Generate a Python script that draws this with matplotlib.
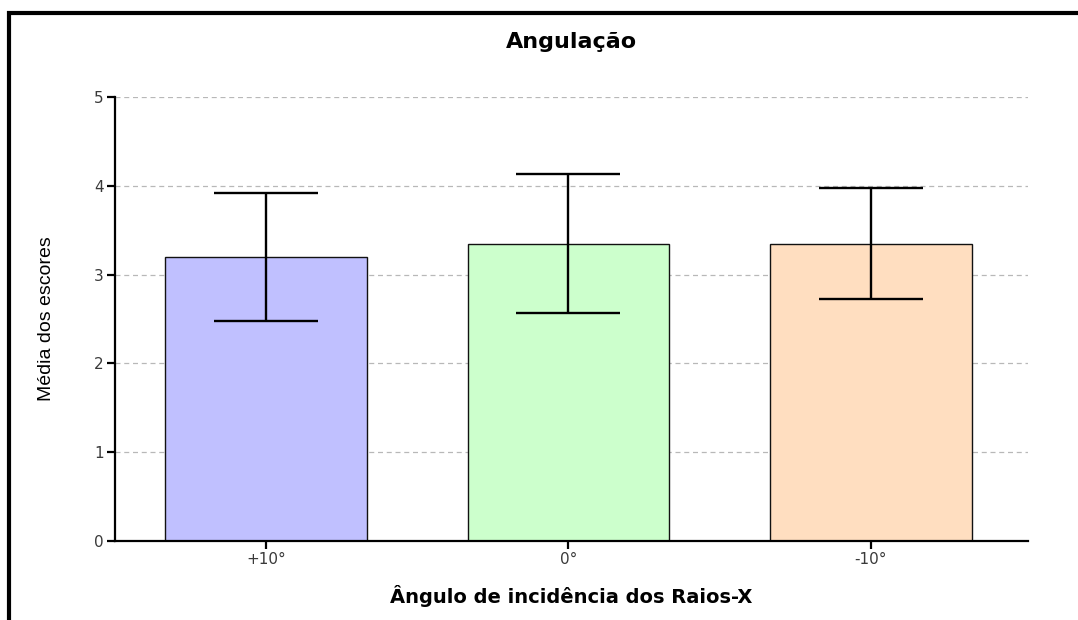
import matplotlib
matplotlib.use("Agg")
import matplotlib.pyplot as plt
from matplotlib.lines import Line2D

plt.rcParams['font.family'] = ['DejaVu Sans']

# data
categories = ['+10°', '0°', '-10°']
means = [3.2, 3.35, 3.35]
errors = [0.72, 0.78, 0.63]
colors = ['#C0C0FF', '#CCFFCC', '#FFDEC0']
yticks = [0, 1, 2, 3, 4, 5]

W, H = 1078, 620
fig = plt.figure(figsize=(W / 100, H / 100), dpi=100)
ax = fig.add_axes([115 / W, 1 - 541 / H, 913 / W, 444 / H])

x = list(range(len(categories)))
ax.bar(x, means, width=0.667, color=colors, edgecolor='#111111', linewidth=1.0, zorder=2)
ax.errorbar(x, means, yerr=errors, fmt='none', ecolor='black', elinewidth=1.7,
            capsize=37.5, capthick=1.7, zorder=3)

ax.set_xlim(-0.5, 2.52)
ax.set_ylim(0, 5)
ax.set_yticks(yticks)
ax.set_xticks(x)
ax.set_xticklabels(categories)

for yv in yticks[1:]:
    ax.axhline(yv, color='#b8b8b8', linestyle=(0, (4, 3)), linewidth=0.9, zorder=1)

for s in ['top', 'right']:
    ax.spines[s].set_visible(False)
for s in ['left', 'bottom']:
    ax.spines[s].set_linewidth(1.6)
ax.tick_params(axis='both', direction='out', width=1.6, length=6, labelsize=11,
               labelcolor='#3a3a3a', pad=2)

ax.set_title('Angulação', fontsize=16, fontweight='bold', pad=35)
ax.set_xlabel('Ângulo de incidência dos Raios-X', fontsize=14, fontweight='semibold')
ax.xaxis.set_label_coords(0.5, -0.1)
ax.set_ylabel('Média dos escores', fontsize=14, family=['Liberation Sans'])
ax.yaxis.set_label_coords(-0.066, 0.5)

# frame around the picture (top and left edges)
fig.add_artist(Line2D([7 / W, 1.0], [1 - 13 / H, 1 - 13 / H], color='black', linewidth=3,
                      solid_capstyle='butt', transform=fig.transFigure))
fig.add_artist(Line2D([9 / W, 9 / W], [0.0, 1 - 11 / H], color='black', linewidth=3,
                      solid_capstyle='butt', transform=fig.transFigure))

fig.savefig('out.png', dpi=100)
